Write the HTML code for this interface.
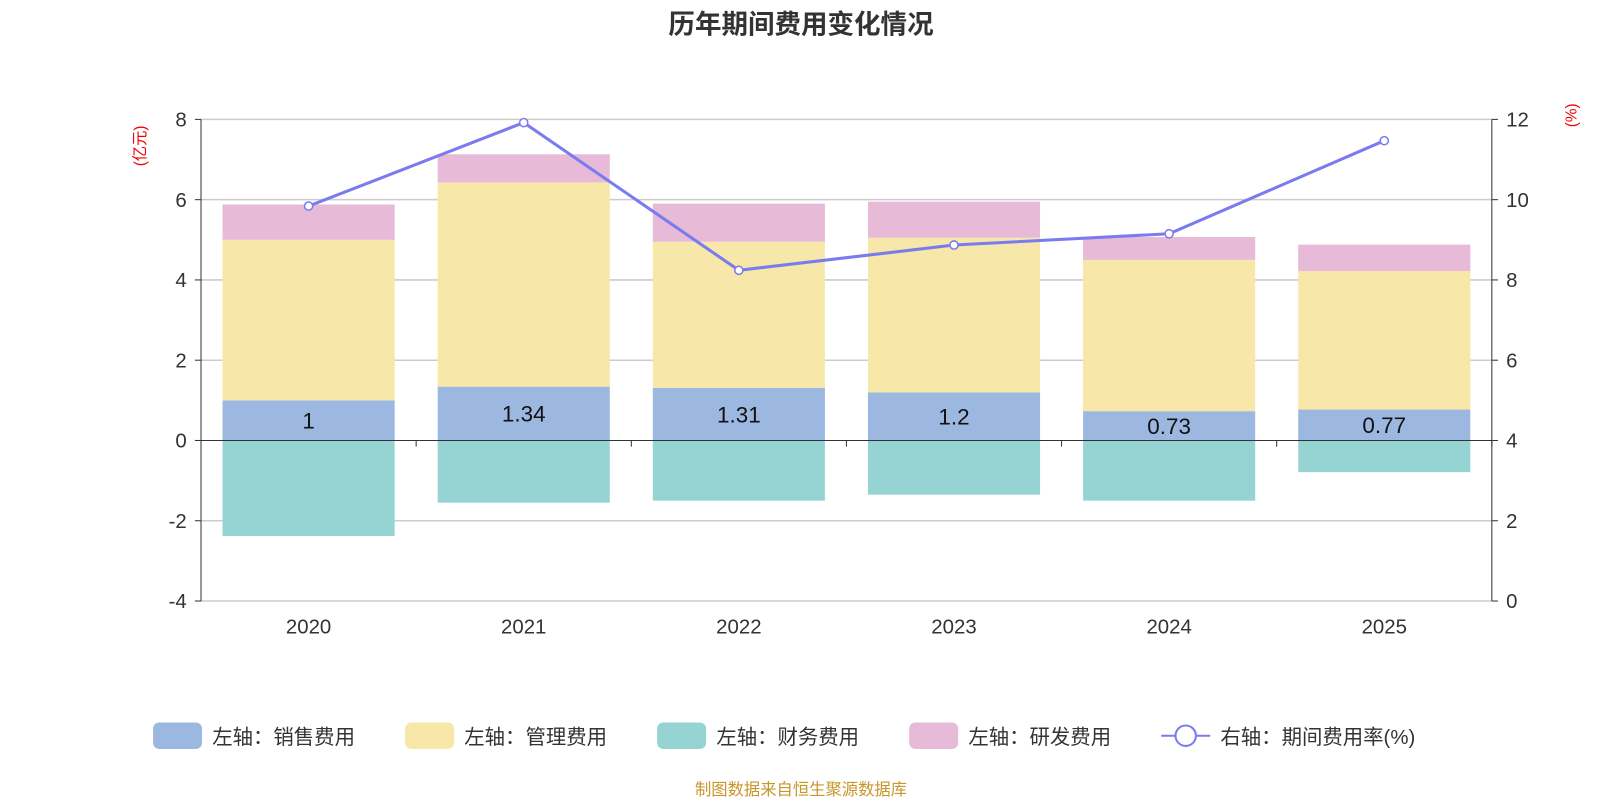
<!DOCTYPE html>
<html><head><meta charset="utf-8"><style>
body{margin:0;background:#fff;font-family:"Liberation Sans","Noto Sans CJK SC",sans-serif;}
svg text{font-family:"Liberation Sans","Noto Sans CJK SC",sans-serif;}
svg{display:block;}
</style></head><body>
<svg id="c" width="1600" height="800" viewBox="0 0 1568 784" xmlns="http://www.w3.org/2000/svg">
<text x="785" y="33" text-anchor="middle" font-size="26" font-weight="bold" fill="#333">历年期间费用变化情况</text>
<text transform="translate(142,143) rotate(-90)" text-anchor="middle" font-size="15" fill="#e00">(亿元)</text>
<text transform="translate(1545,113) rotate(-90)" text-anchor="middle" font-size="15" fill="#e00">(%)</text>
<g id="grid"></g><g id="bars"></g><g id="axes"></g><g id="line"></g>
<g id="legend" font-size="20" fill="#333">
<rect x="150" y="708" width="48" height="26" rx="6" fill="#9cb8e0"/><text x="208" y="729">左轴：销售费用</text>
<rect x="397" y="708" width="48" height="26" rx="6" fill="#f7e7a8"/><text x="455" y="729">左轴：管理费用</text>
<rect x="644" y="708" width="48" height="26" rx="6" fill="#96d4d4"/><text x="702" y="729">左轴：财务费用</text>
<rect x="891" y="708" width="48" height="26" rx="6" fill="#e7bad8"/><text x="949" y="729">左轴：研发费用</text>
<line x1="1138" y1="721" x2="1186" y2="721" stroke="#7b7bf0" stroke-width="2"/><circle cx="1162" cy="721" r="10" fill="#fff" stroke="#7b7bf0" stroke-width="2"/><text x="1196" y="729">右轴：期间费用率(%)</text>
</g>
<text x="785" y="779" text-anchor="middle" font-size="16" fill="#c8962a">制图数据来自恒生聚源数据库</text>
</svg>
<script>
const years=["2020","2021","2022","2023","2024","2025"];
const sales=[1,1.34,1.31,1.2,0.73,0.77];
const admin=[4.0,5.09,3.64,3.85,3.77,3.45];
const finance=[-2.38,-1.55,-1.5,-1.35,-1.5,-0.79];
const rd=[0.88,0.70,0.95,0.9,0.57,0.66];
const rate=[9.84,11.92,8.24,8.87,9.15,11.47];
const leftTicks=[-4,-2,0,2,4,6,8];
const rightTicks=[0,2,4,6,8,10,12];
const NS="http://www.w3.org/2000/svg";
const X0=197,X1=1462,T=117,B=589;
const yL=v=>B-(v+4)/12*(B-T);
const yR=v=>B-v/12*(B-T);
const bw=(X1-X0)/years.length;
const xc=i=>X0+bw*(i+0.5);
function mk(t,a,p){const e=document.createElementNS(NS,t);for(const k in a)e.setAttribute(k,a[k]);document.getElementById(p).appendChild(e);return e;}
leftTicks.forEach(v=>{
 if(v!==0){const g=mk('line',{x1:X0,x2:X1,y1:yL(v),y2:yL(v),stroke:'#ccc','stroke-width':1.5},'grid');
 
 }
 const t=mk('text',{x:X0-14,y:yL(v)+7,'text-anchor':'end','font-size':20,fill:'#333'},'axes');t.textContent=v;
 
 
 mk('line',{x1:X0-6,x2:X0,y1:yL(v),y2:yL(v),stroke:'#333'},'axes');
});
rightTicks.forEach(v=>{
 const t=mk('text',{x:X1+14,y:yR(v)+7,'font-size':20,fill:'#333'},'axes');t.textContent=v;
 
 
 mk('line',{x1:X1,x2:X1+6,y1:yR(v),y2:yR(v),stroke:'#333'},'axes');
});
mk('line',{x1:X0,x2:X0,y1:T,y2:B,stroke:'#333'},'axes');
mk('line',{x1:X1,x2:X1,y1:T,y2:B,stroke:'#333'},'axes');
years.forEach((y,i)=>{
 const x=xc(i)-bw*0.4,w=bw*0.8;
 const segs=[[0,sales[i],'#9cb8e0','bar-sales'],[sales[i],sales[i]+admin[i],'#f7e7a8','bar-admin'],[sales[i]+admin[i],sales[i]+admin[i]+rd[i],'#e7bad8','bar-rd'],[finance[i],0,'#96d4d4','bar-finance']];
 segs.forEach(s=>{const r=mk('rect',{x:x,y:yL(Math.max(s[0],s[1])),width:w,height:Math.abs(yL(s[0])-yL(s[1])),fill:s[2]},'bars');
  
  });
 const l=mk('text',{x:xc(i),y:(yL(0)+yL(sales[i]))/2+8,'text-anchor':'middle','font-size':22,fill:'#111'},'bars');l.textContent=sales[i];
 
 
 const t=mk('text',{x:xc(i),y:B+32,'text-anchor':'middle','font-size':20,fill:'#333'},'axes');t.textContent=y;
 
 
 mk('line',{x1:X0+bw*(i+1),x2:X0+bw*(i+1),y1:yL(0),y2:yL(0)+6,stroke:'#333'},'axes');
});
mk('line',{x1:X0,x2:X1,y1:yL(0),y2:yL(0),stroke:'#333'},'axes');
const p=mk('polyline',{points:rate.map((v,i)=>xc(i)+','+yR(v)).join(' '),fill:'none',stroke:'#7b7bf0','stroke-width':3},'line');


rate.forEach((v,i)=>{const c=mk('circle',{cx:xc(i),cy:yR(v),r:4,fill:'#fff',stroke:'#7b7bf0','stroke-width':1.5},'line');
 
 });
</script>
</body></html>
